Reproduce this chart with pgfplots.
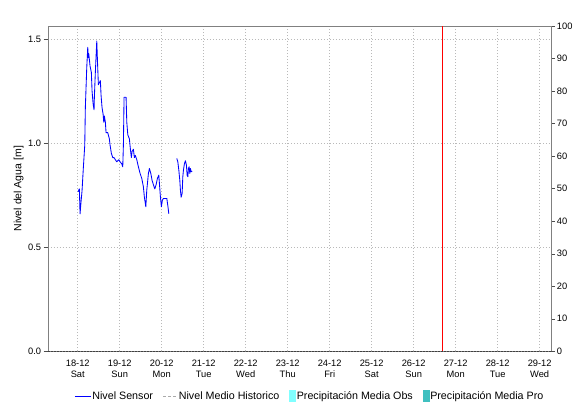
\documentclass[border=0pt]{standalone}
\usepackage{fontspec}
\setmainfont{Liberation Sans}
\usepackage{pgfplots}
\pgfplotsset{compat=1.18}
\definecolor{axgray}{RGB}{128,128,128}
\definecolor{gridgray}{RGB}{185,185,185}
\definecolor{obs}{RGB}{128,255,255}
\definecolor{pro}{RGB}{64,192,192}
\definecolor{histgray}{RGB}{170,170,170}
\pgfplotsset{
  lineA/.style={legend image code/.code={\draw[##1] (0bp,0bp)--(16bp,0bp);}},
  lineB/.style={legend image code/.code={\draw[##1] (0bp,0bp)--(14bp,0bp);}},
  boxObs/.style={legend image code/.code={\fill[obs] (0bp,-5.5bp) rectangle (6bp,5.5bp);}},
  boxPro/.style={legend image code/.code={\fill[pro] (0bp,-5.5bp) rectangle (6bp,5.5bp);}},
}
\begin{document}
\begin{tikzpicture}
\begin{axis}[
  name=main,
  width=503bp, height=325bp, scale only axis,
  xmin=-0.715, xmax=11.27, ymin=0, ymax=1.5625,
  axis line style={axgray},
  xtick={0,1,2,3,4,5,6,7,8,9,10,11},
  xticklabels={18-12\\Sat,19-12\\Sun,20-12\\Mon,21-12\\Tue,22-12\\Wed,23-12\\Thu,24-12\\Fri,25-12\\Sat,26-12\\Sun,27-12\\Mon,28-12\\Tue,29-12\\Wed},
  xticklabel style={align=center, font=\fontsize{9.3bp}{11bp}\selectfont, inner sep=0pt, yshift=-5bp},
  xtick style={draw=none},
  xtick pos=bottom,
  ytick={0,0.5,1,1.5},
  yticklabels={0.0,0.5,1.0,1.5},
  ytick pos=left,
  tick align=outside,
  major tick length=4bp,
  ytick style={black!70},
  yticklabel style={font=\fontsize{9.3bp}{11bp}\selectfont, inner sep=0pt, xshift=-2.5bp},
  grid=major,
  major grid style={gridgray, dash pattern=on 1.5bp off 1.5bp, line width=0.6bp},
  ylabel={Nivel del Agua [m]},
  every axis y label/.style={at={(axis description cs:-0.058,0.5)}, rotate=90, anchor=center, font=\fontsize{10.5bp}{12bp}\selectfont},
  unbounded coords=jump,
  legend columns=4,
  legend style={at={(axis description cs:0.52,-0.138)}, anchor=center, draw=none, fill=none,
    font=\fontsize{10.7bp}{12bp}\selectfont, nodes={inner sep=1bp},
    /tikz/every even column/.append style={column sep=9bp}},
  legend cell align=left,
]
\coordinate (LL) at (rel axis cs:0,0);
\coordinate (UR) at (rel axis cs:1,1);
\addplot[blue, line width=0.85bp, line join=round, lineA] table {
x y
0.007 0.766
0.038 0.78
0.055 0.66
0.079 0.72
0.102 0.77
0.133 0.88
0.167 0.99
0.181 1.17
0.214 1.36
0.238 1.46
0.253 1.41
0.262 1.43
0.293 1.37
0.324 1.34
0.341 1.25
0.365 1.19
0.388 1.16
0.396 1.22
0.419 1.34
0.453 1.49
0.467 1.41
0.491 1.28
0.515 1.29
0.539 1.30
0.555 1.23
0.579 1.17
0.603 1.14
0.620 1.10
0.634 1.13
0.658 1.10
0.674 1.05
0.715 1.05
0.753 1.02
0.770 0.99
0.801 0.95
0.834 0.93
0.865 0.93
0.896 0.92
0.929 0.91
0.977 0.92
1.008 0.91
1.049 0.90
1.072 0.886
1.087 0.99
1.103 1.22
1.151 1.22
1.168 1.10
1.192 1.04
1.230 1.02
1.254 0.97
1.277 0.93
1.294 0.96
1.325 0.97
1.349 0.93
1.373 0.94
1.406 0.92
1.444 0.886
1.485 0.854
1.525 0.83
1.563 0.79
1.587 0.74
1.621 0.694
1.644 0.774
1.683 0.854
1.706 0.878
1.740 0.854
1.771 0.82
1.802 0.80
1.835 0.78
1.866 0.80
1.897 0.83
1.930 0.846
1.945 0.806
1.969 0.74
1.992 0.694
2.016 0.726
2.040 0.734
2.121 0.734
2.145 0.70
2.169 0.66
2.26 nan
2.359 0.926
2.383 0.91
2.407 0.87
2.431 0.82
2.445 0.774
2.462 0.74
2.486 0.758
2.502 0.838
2.517 0.87
2.540 0.90
2.564 0.915
2.588 0.894
2.605 0.846
2.622 0.838
2.636 0.878
2.653 0.886
2.669 0.854
2.684 0.878
2.700 0.862
2.724 0.865
};
\addlegendentry{Nivel Sensor}
\addlegendimage{histgray, dash pattern=on 2.5bp off 2.5bp, line width=0.8bp, lineB}
\addlegendentry{Nivel Medio Historico}
\addlegendimage{boxObs}
\addlegendentry{Precipitación Media Obs}
\addlegendimage{boxPro}
\addlegendentry{Precipitación Media Pro}
\addplot[red, line width=0.9bp, forget plot] coordinates {(8.675,0) (8.675,1.5625)};
\addplot[black!75, dash pattern=on 0.75bp off 0.75bp, line width=0.8bp, forget plot] coordinates {(-0.715,0) (11.27,0)};
\node[anchor=base, font=\fontsize{10.8bp}{12bp}\selectfont] at (rel axis cs:0.5,1) [yshift=7.5bp] {EL JUNCAL - AUT\hspace{0.8em}[2405700149] - CORRIENTE: Sogamoso};
\end{axis}
\begin{axis}[
  width=503bp, height=325bp, scale only axis,
  xmin=-0.715, xmax=11.27, ymin=0, ymax=100,
  axis x line=none,
  axis y line*=right,
  axis line style={axgray, -},
  ytick={0,10,20,30,40,50,60,70,80,90,100},
  yticklabels={0,10,20,30,40,50,60,70,80,90,100},
  tick align=outside,
  major tick length=4bp,
  ytick style={black!70},
  yticklabel style={font=\fontsize{9.3bp}{11bp}\selectfont, inner sep=0pt, xshift=1.7bp},
]
\end{axis}
\pgfresetboundingbox
\path ([shift={(-47.7bp,-51bp)}]LL) rectangle ([shift={(23bp,26bp)}]UR);
\end{tikzpicture}
\end{document}
